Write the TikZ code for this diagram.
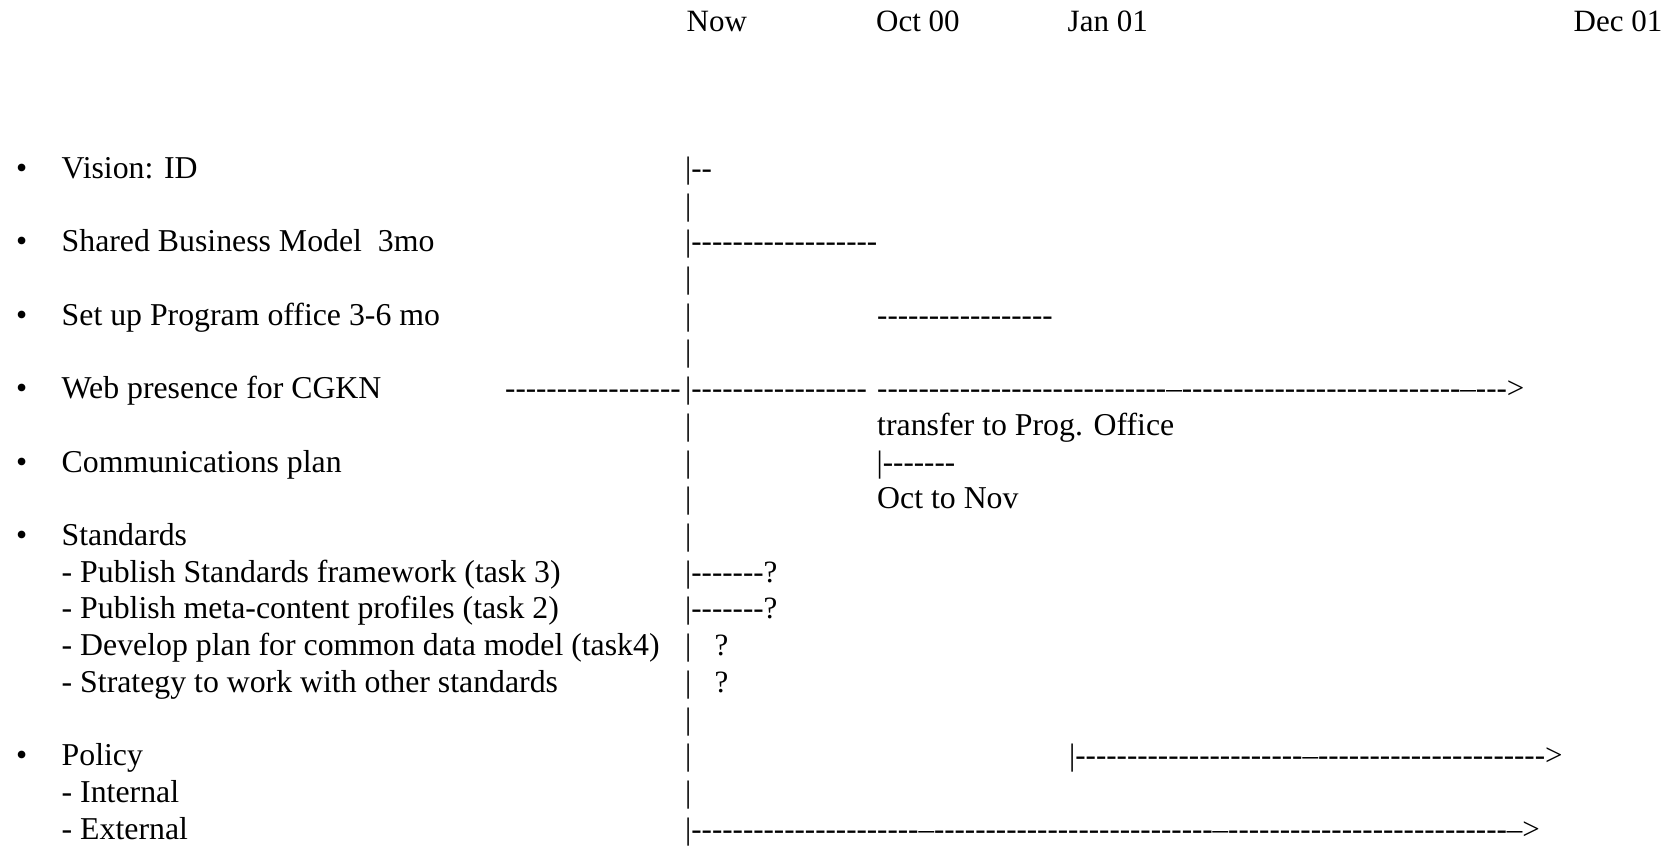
\documentclass[tikz,border=0pt]{standalone}
\usepackage{fontspec}
\setmainfont{Liberation Serif}
\def\dy{36.72}
\def\yo{178.3}
\tikzstyle{txt}=[inner sep=0pt,anchor=base west,font=\fontsize{31.8}{37}\selectfont]
\tikzstyle{run}=[inner sep=0pt,anchor=base west,font=\fontsize{31}{37}\selectfont]
\newcommand{\hy}[1]{\foreach \k in {1,...,#1}{\mbox{-}}}
\newcommand{\newItem}[4]{\node[txt](#1) at (#3,{\yo+\dy*#2}) {#4};}
\newcommand{\newRun}[4]{\node[run](#1) at (#3,{\yo+\dy*#2}) {#4};}
\newcommand{\newBullet}[3]{\node[txt](#1b) at (16,{\yo+\dy*#2}) {•};
  \node[txt](#1) at (61.5,{\yo+\dy*#2}) {#3};}
\begin{document}
\begin{tikzpicture}[x=1pt,y=-1pt]
      \useasboundingbox (0,0) rectangle (1673,846);
      % time axis
      \node[run](now) at (686.5,31) {Now};
      \node[run](oct) at (876,31) {Oct 00};
      \node[run](jan) at (1067.5,31) {Jan 01};
      \node[run](dec) at (1573.5,31) {Dec 01};

      % tasks
      \newBullet{vision}{0}{Vision: ID}
      \newBullet{shared}{2}{Shared Business Model\ \ 3mo}
      \newBullet{setup}{4}{Set up Program office 3-6 mo}
      \newBullet{web}{6}{Web presence for CGKN}
      \newBullet{comms}{8}{Communications plan}
      \newBullet{stds}{10}{Standards}
      \newItem{stdsA}{11}{61.5}{- Publish Standards framework (task 3)}
      \newItem{stdsB}{12}{61.5}{- Publish meta-content profiles (task 2)}
      \newItem{stdsC}{13}{61.5}{- Develop plan for common data model (task4)}
      \newItem{stdsD}{14}{61.5}{- Strategy to work with other standards}
      \newBullet{policy}{16}{Policy}
      \newItem{internal}{17}{61.5}{- Internal}
      \newItem{external}{18}{61.5}{- External}

      % the now column
      \newRun{bar0}{0}{685}{|\hy{2}}
      \newRun{bar1}{1}{685}{|}
      \newRun{bar2}{2}{685}{|\hy{18}}
      \newRun{bar3}{3}{685}{|}
      \newRun{bar4}{4}{685}{|}
      \newRun{bar5}{5}{685}{|}
      \newRun{bar6}{6}{685}{|\hy{17}}
      \newRun{bar7}{7}{685}{|}
      \newRun{bar8}{8}{685}{|}
      \newRun{bar9}{9}{685}{|}
      \newRun{bar10}{10}{685}{|}
      \newRun{bar11}{11}{685}{|\hy{7}?}
      \newRun{bar12}{12}{685}{|\hy{7}?}
      \newRun{bar13}{13}{685}{|\ \ \ ?}
      \newRun{bar14}{14}{685}{|\ \ \ ?}
      \newRun{bar15}{15}{685}{|}
      \newRun{bar16}{16}{685}{|}
      \newRun{bar17}{17}{685}{|}
      \newRun{bar18}{18}{685}{|\hy{22}–\hy{27}–\hy{27}–>}

      % later runs
      \newRun{webPre}{6}{505}{\hy{17}}
      \newRun{webRun}{6}{877}{\hy{28}–\hy{27}–\hy{3}>}
      \newRun{setupRun}{4}{877}{\hy{17}}
      \newItem{transfer}{7}{877}{transfer to Prog. Office}
      \newRun{commsRun}{8}{876.5}{|\hy{7}}
      \newItem{octNov}{9}{877}{Oct to Nov}
      \newRun{policyRun}{16}{1069}{|\hy{22}–\hy{22}>}
\end{tikzpicture}
\end{document}
